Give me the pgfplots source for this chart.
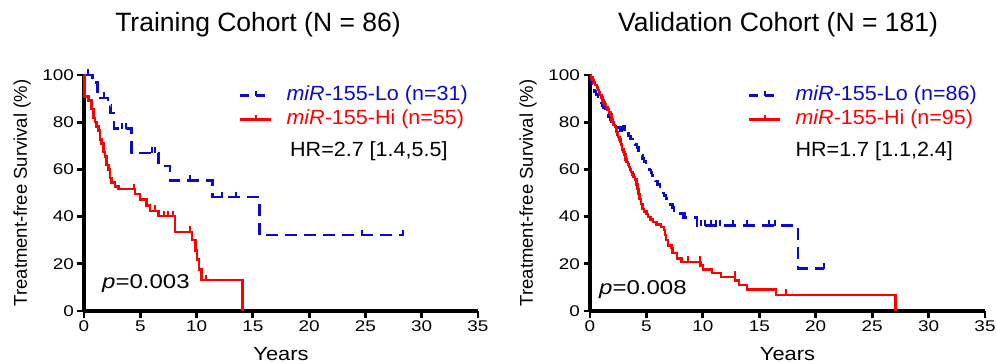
\documentclass[border=0pt]{standalone}
\usepackage{fontspec}
\setmainfont{Liberation Sans}
\newfontfamily\tickfont[FakeStretch=1.22]{Liberation Sans}
\newfontfamily\legfont[FakeStretch=1.05]{Liberation Sans}
\newfontfamily\yearfont[FakeStretch=1.15]{Liberation Sans}
\newfontfamily\pfont[FakeStretch=1.2]{Liberation Sans}
\usepackage{pgfplots}
\pgfplotsset{compat=1.18}
\definecolor{kmblue}{RGB}{10,10,200}
\definecolor{kmred}{RGB}{255,0,0}
\pgfplotsset{
  km/.style={
    scale only axis, height=236pt,
    xmin=0, xmax=35, ymin=0, ymax=100,
    axis lines=left, axis line style={line width=3.3pt,-,black},
    xtick={0,5,...,35}, ytick={0,20,...,100},
    tick style={line width=2.8pt,black}, tick align=outside, major tick length=6.5pt,
    /pgf/number format/assume math mode=true,
    tick label style={font=\tickfont\fontsize{15.5}{18}\selectfont},
    xlabel={Years}, ylabel={Treatment-free Survival (\%)},
    x label style={at={(axis description cs:0.5,0)}, anchor=base, yshift=-50pt, font=\yearfont\fontsize{19}{22}\selectfont},
    y label style={at={([xshift=-62pt]axis description cs:0,0.5)}, anchor=center, rotate=0, font=\fontsize{18.5}{22}\selectfont},
    clip=false,
    legend cell align=left,
    legend style={draw=none, fill=none, inner sep=0pt, outer sep=0pt, row sep=5pt,
      nodes={inner sep=0pt, text height=14pt, text depth=5pt},
      font=\legfont\fontsize{20.5}{24}\selectfont},
    /tikz/every odd column/.append style={column sep=14pt},
  },
  bluelegend/.style={legend image code/.code={
      \draw[kmblue, line width=2.5pt, dash pattern=on 9pt off 7pt] (0pt,0pt) -- (31pt,0pt);
      \draw[kmblue, line width=2pt] (15.5pt,0pt) -- (15.5pt,5pt);}},
  redlegend/.style={legend image code/.code={
      \draw[kmred, line width=2.5pt] (0pt,0pt) -- (31pt,0pt);
      \draw[kmred, line width=2pt] (15.5pt,0pt) -- (15.5pt,5pt);}},
  bline/.style={const plot, kmblue, line width=2.5pt, dash pattern=on 12pt off 7pt},
  rline/.style={const plot, kmred, line width=2.5pt},
  bcens/.style={only marks, mark=|, kmblue, mark size=3pt, mark options={line width=2pt, yshift=2.5pt, solid}},
  rcens/.style={only marks, mark=|, kmred, mark size=3pt, mark options={line width=2pt, yshift=2.5pt, solid}},
}
\begin{document}
\begin{tikzpicture}
\useasboundingbox (0,0) rectangle (997pt,364pt);
\node[anchor=base] at (258pt,332pt) {\fontsize{26.5}{30}\selectfont Training Cohort (N = 86)};
\node[anchor=base] at (778pt,332pt) {\fontsize{26.5}{30}\selectfont Validation Cohort (N = 181)};
% ---------------- Training
\begin{axis}[km, width=394pt, at={(84pt,53pt)}, anchor=south west,
  legend style={at={(axis cs:13.77,95.3)}, anchor=north west}]
\addlegendimage{bluelegend}
\addlegendentry{\textcolor{kmblue}{\itshape miR\upshape-155-Lo (n=31)}}
\addlegendimage{redlegend}
\addlegendentry{\textcolor{kmred}{\itshape miR\upshape-155-Hi (n=55)}}
\addplot[bline, forget plot] coordinates {
(0,100) (0.75,96.8) (1.18,90.3) (2.13,87.1) (2.36,83.9) (2.66,77.4) (4.22,67.0)
(6.64,61.4) (7.62,55.2) (11.43,48.3) (15.59,32.2) (28.4,32.2)};
\addplot[bcens, forget plot] coordinates {
(0.35,100) (1.77,90.3) (3.4,77.4) (3.7,77.4) (6.05,67.0) (6.3,67.0) (9.39,55.2)
(12.26,48.3) (13.5,48.3) (24.66,32.2) (28.35,32.2)};
\addplot[rline, forget plot] coordinates {
(0,100) (0.06,90.9) (0.38,89.1) (0.68,85.5) (0.83,81.8) (0.98,80.0) (1.13,78.2)
(1.27,76.4) (1.42,72.7) (1.57,70.9) (1.72,67.3) (1.87,65.5) (2.01,61.8) (2.16,60.0)
(2.31,56.4) (2.46,54.5) (2.75,52.7) (3.05,51.6) (4.53,49.5) (4.97,47.3) (5.57,44.6)
(5.86,42.4) (6.6,40.2) (8.08,33.5) (9.6,30.1) (9.9,25.6) (10.05,21.9) (10.2,17.5)
(10.45,13.1) (14.1,0)};
\addplot[rcens, forget plot] coordinates {
(4.4,51.6) (6.35,42.4) (7.1,40.2) (7.5,40.2) (7.95,40.2) (9.4,33.5) (10.8,13.1)};
\node[anchor=base west, inner sep=0pt] at (axis cs:18.3,65.3)
  {\legfont\fontsize{20.5}{24}\selectfont HR=2.7 [1.4,5.5]};
\node[anchor=base west, inner sep=0pt] at (axis cs:1.6,9.7)
  {\pfont\fontsize{20}{24}\selectfont\itshape p\upshape=0.003};
\end{axis}
% ---------------- Validation
\begin{axis}[km, width=395pt, at={(590pt,53pt)}, anchor=south west,
  legend style={at={(axis cs:14.0,95.3)}, anchor=north west}]
\addlegendimage{bluelegend}
\addlegendentry{\textcolor{kmblue}{\itshape miR\upshape-155-Lo (n=86)}}
\addlegendimage{redlegend}
\addlegendentry{\textcolor{kmred}{\itshape miR\upshape-155-Hi (n=95)}}
\addplot[bline, forget plot] coordinates {
(0,100) (0.05,97.7) (0.1,96.5) (0.15,95.3) (0.25,94.2) (0.4,93.0) (0.55,91.8)
(0.7,90.7) (0.85,89.5) (1.0,88.3) (1.1,87.1) (1.2,86.0) (1.35,84.8) (1.45,83.6)
(1.6,82.4) (1.75,81.2) (1.9,80.0) (2.1,78.9) (2.3,77.7) (2.7,76.5) (3.2,75.3)
(3.4,74.1) (3.6,72.9) (3.8,71.7) (4.0,70.5) (4.15,69.3) (4.3,67.0) (4.5,65.8)
(4.65,64.6) (4.8,63.4) (4.95,62.2) (5.1,61.0) (5.25,59.8) (5.4,58.6) (5.5,57.4)
(5.6,56.2) (5.8,55.0) (6.0,53.7) (6.2,52.5) (6.35,50.1) (6.55,48.9) (6.75,47.6)
(6.95,46.4) (7.15,45.1) (7.3,43.8) (7.45,41.3) (8.3,39.6) (9.5,36.2) (18.45,18.1)
(20.7,18.1)};
\addplot[bcens, forget plot] coordinates {
(2.9,76.5) (3.1,76.5) (8.4,39.6) (9.8,36.2) (10.2,36.2) (10.7,36.2) (11.2,36.2)
(11.5,36.2) (12.7,36.2) (13.9,36.2) (15.9,36.2) (16.4,36.2) (20.7,18.1)};
\addplot[rline, forget plot] coordinates {
(0,100) (0.1,98.9) (0.2,97.9) (0.3,96.8) (0.45,95.8) (0.6,94.7) (0.7,93.7)
(0.8,92.6) (0.9,91.6) (1.0,90.5) (1.1,89.5) (1.2,88.4) (1.3,87.4) (1.4,86.3)
(1.55,85.3) (1.7,84.2) (1.8,83.2) (1.9,81.1) (2.0,80.0) (2.1,78.9) (2.2,77.9)
(2.3,76.8) (2.35,75.8) (2.45,74.7) (2.5,73.7) (2.6,72.6) (2.7,71.6) (2.75,70.5)
(2.85,68.4) (2.95,67.4) (3.05,66.3) (3.15,64.2) (3.25,63.2) (3.35,62.1) (3.45,61.1)
(3.55,60.0) (3.65,58.9) (3.75,57.9) (3.85,56.8) (4.0,55.8) (4.1,53.7) (4.2,51.6)
(4.3,49.5) (4.4,47.4) (4.5,45.3) (4.65,43.2) (4.8,42.1) (5.0,41.0) (5.15,39.9)
(5.35,38.8) (5.6,37.7) (5.9,36.6) (6.3,35.5) (6.55,34.4) (6.65,32.2) (6.75,30.0)
(6.9,27.8) (7.2,26.7) (7.3,24.5) (7.7,22.3) (8.1,20.8) (9.8,19.2) (10.0,17.6)
(10.8,16.0) (11.6,14.5) (12.85,13.0) (13.2,11.0) (13.9,9.2) (16.5,6.8) (27.05,0)};
\addplot[rcens, forget plot] coordinates {
(4.7,43.2) (8.7,20.8) (9.75,20.8) (12.85,14.5) (17.4,6.8)};
\node[anchor=base west, inner sep=0pt] at (axis cs:18.2,65.3)
  {\legfont\fontsize{20.5}{24}\selectfont HR=1.7 [1.1,2.4]};
\node[anchor=base west, inner sep=0pt] at (axis cs:0.8,6.8)
  {\pfont\fontsize{20}{24}\selectfont\itshape p\upshape=0.008};
\end{axis}
\end{tikzpicture}
\end{document}
